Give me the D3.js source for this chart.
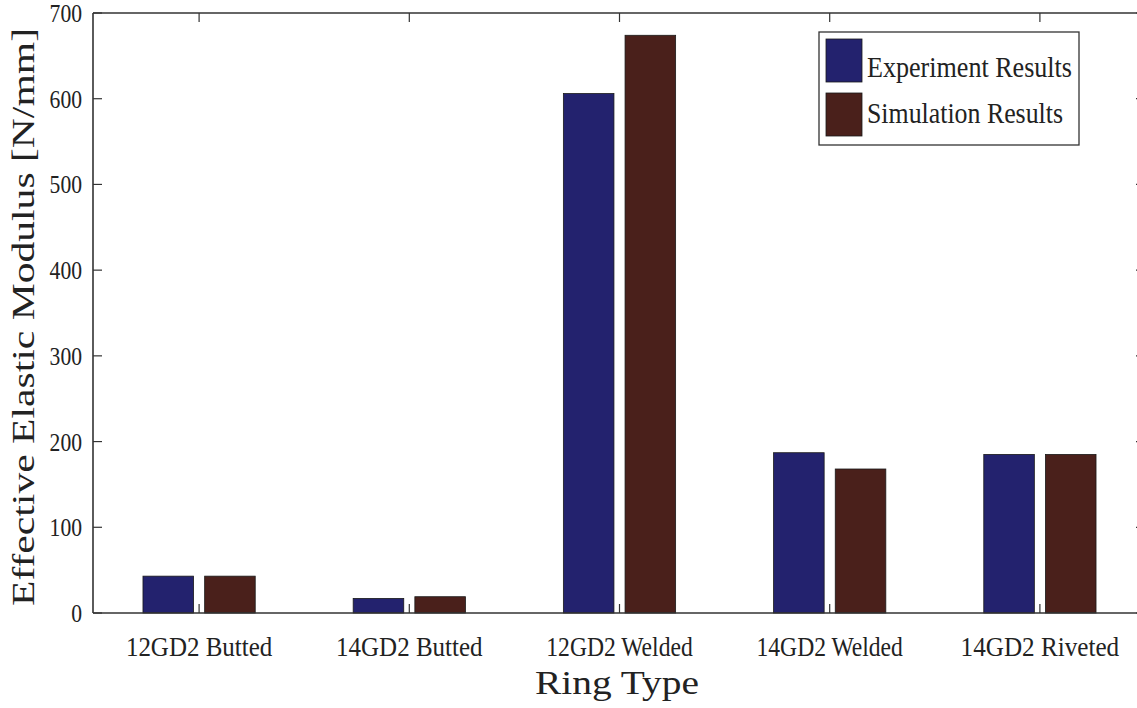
<!DOCTYPE html>
<html>
<head>
<meta charset="utf-8">
<script src="https://cdn.jsdelivr.net/npm/d3@7"></script>
<style>
  body { margin: 0; background: #fff; }
  svg { display: block; }
  text { font-family: "Liberation Serif", "DejaVu Serif", serif; fill: #222; }
</style>
</head>
<body>
<svg id="chart" width="1137" height="708"></svg>
<script>
const categories = ["12GD2 Butted", "14GD2 Butted", "12GD2 Welded", "14GD2 Welded", "14GD2 Riveted"];
const seriesNames = ["Experiment Results", "Simulation Results"];
const experimentValues = [43, 17, 606, 187, 185];
const simulationValues = [43, 19, 674, 168, 185];
const yTicks = [0, 100, 200, 300, 400, 500, 600, 700];
const seriesColors = ["#23226e", "#4a201b"];

const svg = d3.select("#chart");
const pLeft = 93, pRight = 1145, pTop = 13, pBottom = 613;

const x = d3.scaleBand().domain(categories).range([pLeft + 1, pRight]).paddingInner(0).paddingOuter(0);
const bw = x.bandwidth();
const xs = d3.scaleBand().domain(seriesNames).range([0.233 * bw, 0.767 * bw]).paddingInner(0.18).paddingOuter(0);
const y = d3.scaleLinear().domain([0, 700]).range([pBottom, pTop]);

const rows = categories.map((c, i) => ({ cat: c, vals: [experimentValues[i], simulationValues[i]] }));

// bars
const g = svg.append("g");
rows.forEach(r => {
  r.vals.forEach((v, j) => {
    g.append("rect")
      .attr("x", x(r.cat) + xs(seriesNames[j]))
      .attr("y", y(v))
      .attr("width", xs.bandwidth())
      .attr("height", y(0) - y(v))
      .attr("fill", seriesColors[j])
      .attr("stroke", "#1a1a1a")
      .attr("stroke-width", 0.8);
  });
});

// axes box
const axisColor = "#333";
svg.append("line").attr("x1", pLeft).attr("x2", pRight).attr("y1", pBottom).attr("y2", pBottom).attr("stroke", axisColor).attr("stroke-width", 1.6);
svg.append("line").attr("x1", pLeft).attr("x2", pRight).attr("y1", pTop).attr("y2", pTop).attr("stroke", axisColor).attr("stroke-width", 1.4);
svg.append("line").attr("x1", pLeft).attr("x2", pLeft).attr("y1", pTop).attr("y2", pBottom).attr("stroke", axisColor).attr("stroke-width", 1.6);
svg.append("line").attr("x1", pRight).attr("x2", pRight).attr("y1", pTop).attr("y2", pBottom).attr("stroke", axisColor).attr("stroke-width", 1.4);

// y ticks (inward, both sides)
yTicks.forEach(t => {
  const yy = y(t);
  svg.append("line").attr("x1", pLeft).attr("x2", pLeft + 9).attr("y1", yy).attr("y2", yy).attr("stroke", axisColor).attr("stroke-width", 1.2);
  svg.append("line").attr("x1", pRight - 9).attr("x2", pRight).attr("y1", yy).attr("y2", yy).attr("stroke", axisColor).attr("stroke-width", 1.2);
  const s = String(t);
  svg.append("text")
    .attr("x", 82).attr("y", yy + 9)
    .attr("text-anchor", "end")
    .attr("font-size", 26)
    .attr("textLength", s.length * 10.8)
    .attr("lengthAdjust", "spacingAndGlyphs")
    .text(s);
});

// x ticks (inward, bottom and top)
categories.forEach(c => {
  const xx = x(c) + bw / 2;
  svg.append("line").attr("x1", xx).attr("x2", xx).attr("y1", pBottom).attr("y2", pBottom - 9).attr("stroke", axisColor).attr("stroke-width", 1.2);
  svg.append("line").attr("x1", xx).attr("x2", xx).attr("y1", pTop).attr("y2", pTop + 9).attr("stroke", axisColor).attr("stroke-width", 1.2);
  svg.append("text")
    .attr("x", xx).attr("y", 656)
    .attr("text-anchor", "middle")
    .attr("font-size", 27)
    .attr("textLength", c.length * 12.2)
    .attr("lengthAdjust", "spacingAndGlyphs")
    .text(c);
});

// axis titles
svg.append("text")
  .attr("x", 617).attr("y", 694)
  .attr("text-anchor", "middle")
  .attr("font-size", 34)
  .attr("textLength", 164)
  .attr("lengthAdjust", "spacingAndGlyphs")
  .text("Ring Type");

svg.append("text")
  .attr("transform", "translate(34,317) rotate(-90)")
  .attr("text-anchor", "middle")
  .attr("font-size", 31)
  .attr("textLength", 578)
  .attr("lengthAdjust", "spacingAndGlyphs")
  .text("Effective Elastic Modulus [N/mm]");

// legend
const lg = svg.append("g");
lg.append("rect").attr("x", 819).attr("y", 32).attr("width", 260).attr("height", 113)
  .attr("fill", "#fff").attr("stroke", "#333").attr("stroke-width", 1.3);
const legendWidths = [205, 196];
const legendBase = [77, 123];
seriesNames.forEach((n, j) => {
  lg.append("rect").attr("x", 826).attr("y", 39 + j * 54).attr("width", 36).attr("height", 43)
    .attr("fill", seriesColors[j]).attr("stroke", "#1a1a1a").attr("stroke-width", 0.8);
  lg.append("text").attr("x", 867).attr("y", legendBase[j])
    .attr("font-size", 29)
    .attr("textLength", legendWidths[j])
    .attr("lengthAdjust", "spacingAndGlyphs")
    .text(n);
});
</script>
</body>
</html>
